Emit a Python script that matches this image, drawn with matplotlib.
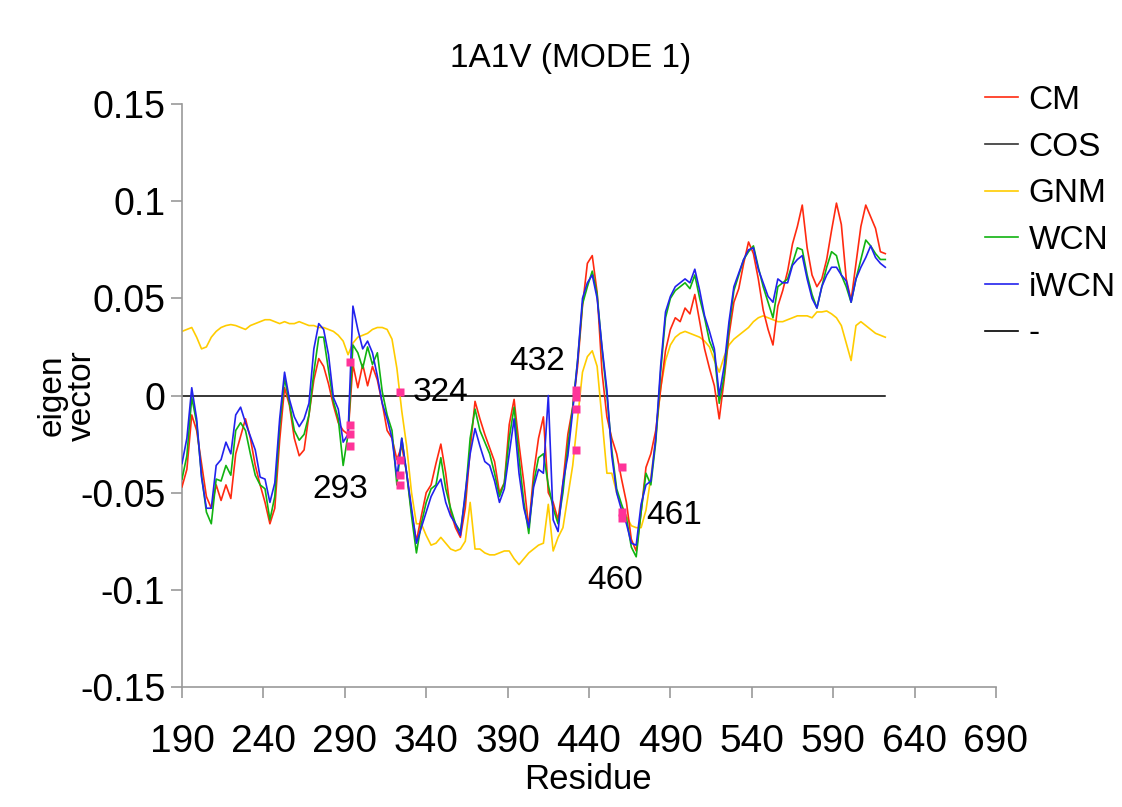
import matplotlib
matplotlib.use('Agg')
import matplotlib.pyplot as plt
from matplotlib.lines import Line2D

plt.rcParams['font.family'] = ['Liberation Sans', 'DejaVu Sans']

residue = list(range(190, 623, 3))

cm = [-0.047, -0.038, -0.010, -0.018, -0.035, -0.052, -0.058, -0.046, -0.054, -0.046,
      -0.053, -0.030, -0.021, -0.012, -0.022, -0.036, -0.046, -0.055, -0.066, -0.058,
      -0.023, 0.004, -0.005, -0.022, -0.031, -0.028, -0.010, 0.008, 0.019, 0.015,
      0.006, -0.005, -0.014, -0.018, -0.020, 0.016, 0.004, 0.016, 0.005, 0.015,
      0.008, -0.004, -0.018, -0.022, -0.033, -0.026, -0.040, -0.060, -0.075, -0.062,
      -0.050, -0.046, -0.035, -0.025, -0.040, -0.060, -0.068, -0.073, -0.058, -0.028,
      -0.003, -0.012, -0.020, -0.027, -0.034, -0.050, -0.045, -0.015, -0.002, -0.025,
      -0.045, -0.068, -0.040, -0.022, -0.011, -0.050, -0.055, -0.064, -0.045, -0.020,
      -0.006, 0.015, 0.046, 0.068, 0.072, 0.053, 0.012, -0.011, -0.022, -0.030,
      -0.043, -0.055, -0.074, -0.080, -0.060, -0.037, -0.030, -0.018, 0.003, 0.023,
      0.034, 0.040, 0.038, 0.045, 0.042, 0.052, 0.038, 0.024, 0.014, 0.005,
      -0.012, 0.008, 0.031, 0.048, 0.055, 0.068, 0.079, 0.073, 0.060, 0.044,
      0.034, 0.026, 0.046, 0.054, 0.064, 0.078, 0.087, 0.098, 0.076, 0.062,
      0.056, 0.060, 0.070, 0.085, 0.099, 0.088, 0.060, 0.049, 0.068, 0.087,
      0.098, 0.092, 0.086, 0.074, 0.073]

wcn = [-0.043, -0.031, -0.001, -0.014, -0.041, -0.060, -0.066, -0.043, -0.044, -0.036,
       -0.041, -0.018, -0.014, -0.018, -0.030, -0.041, -0.046, -0.048, -0.064, -0.052,
       -0.016, 0.009, -0.004, -0.018, -0.023, -0.020, -0.010, 0.012, 0.030, 0.030,
       0.013, -0.003, -0.012, -0.036, -0.020, 0.026, 0.022, 0.014, 0.025, 0.016,
       0.022, 0.002, -0.010, -0.018, -0.046, -0.022, -0.040, -0.062, -0.081, -0.066,
       -0.055, -0.048, -0.046, -0.032, -0.048, -0.058, -0.066, -0.070, -0.052, -0.022,
       -0.007, -0.018, -0.024, -0.030, -0.040, -0.052, -0.045, -0.022, -0.006, -0.032,
       -0.055, -0.071, -0.045, -0.032, -0.030, -0.046, -0.058, -0.066, -0.050, -0.026,
       -0.006, 0.018, 0.047, 0.056, 0.064, 0.052, 0.024, 0.000, -0.028, -0.048,
       -0.056, -0.063, -0.078, -0.083, -0.060, -0.040, -0.046, -0.024, 0.012, 0.040,
       0.050, 0.054, 0.056, 0.058, 0.055, 0.062, 0.050, 0.040, 0.028, 0.022,
       -0.004, 0.010, 0.035, 0.054, 0.062, 0.070, 0.074, 0.077, 0.066, 0.056,
       0.048, 0.040, 0.056, 0.058, 0.060, 0.068, 0.076, 0.075, 0.062, 0.052,
       0.045, 0.056, 0.066, 0.074, 0.072, 0.062, 0.056, 0.048, 0.060, 0.070,
       0.080, 0.077, 0.073, 0.070, 0.070]

iwcn = [-0.035, -0.022, 0.004, -0.012, -0.042, -0.058, -0.058, -0.036, -0.033, -0.024,
        -0.030, -0.010, -0.006, -0.014, -0.021, -0.028, -0.042, -0.043, -0.055, -0.045,
        -0.012, 0.012, -0.002, -0.011, -0.016, -0.012, -0.004, 0.024, 0.037, 0.034,
        0.021, -0.001, -0.007, -0.024, -0.020, 0.046, 0.034, 0.024, 0.028, 0.022,
        0.010, -0.004, -0.012, -0.022, -0.042, -0.022, -0.040, -0.058, -0.076, -0.068,
        -0.060, -0.052, -0.047, -0.043, -0.055, -0.062, -0.066, -0.072, -0.050, -0.030,
        -0.017, -0.026, -0.034, -0.036, -0.044, -0.055, -0.048, -0.030, -0.012, -0.040,
        -0.058, -0.068, -0.047, -0.038, -0.040, 0.000, -0.064, -0.070, -0.045, -0.031,
        -0.008, 0.018, 0.050, 0.058, 0.062, 0.050, 0.025, 0.003, -0.031, -0.050,
        -0.059, -0.066, -0.076, -0.077, -0.056, -0.046, -0.044, -0.022, 0.015, 0.043,
        0.051, 0.056, 0.058, 0.060, 0.058, 0.065, 0.054, 0.041, 0.033, 0.024,
        0.000, 0.015, 0.038, 0.056, 0.063, 0.070, 0.075, 0.076, 0.065, 0.058,
        0.051, 0.048, 0.060, 0.058, 0.058, 0.067, 0.070, 0.072, 0.060, 0.050,
        0.045, 0.056, 0.062, 0.066, 0.066, 0.062, 0.059, 0.048, 0.060, 0.066,
        0.071, 0.077, 0.071, 0.068, 0.066]

gnm = [0.033, 0.034, 0.035, 0.030, 0.024, 0.025, 0.030, 0.033, 0.035, 0.036,
       0.0365, 0.036, 0.035, 0.034, 0.036, 0.037, 0.038, 0.039, 0.039, 0.038,
       0.037, 0.038, 0.037, 0.037, 0.038, 0.037, 0.036, 0.036, 0.035, 0.035,
       0.034, 0.033, 0.031, 0.028, 0.021, 0.027, 0.030, 0.031, 0.032, 0.034,
       0.035, 0.035, 0.034, 0.029, 0.014, -0.008, -0.026, -0.050, -0.066, -0.066,
       -0.072, -0.077, -0.076, -0.073, -0.076, -0.079, -0.080, -0.079, -0.075, -0.055,
       -0.079, -0.079, -0.081, -0.082, -0.082, -0.081, -0.080, -0.080, -0.084, -0.087,
       -0.084, -0.081, -0.079, -0.077, -0.076, -0.056, -0.080, -0.073, -0.068, -0.052,
       -0.036, -0.012, 0.012, 0.020, 0.023, 0.015, -0.012, -0.040, -0.040, -0.050,
       -0.057, -0.062, -0.067, -0.068, -0.068, -0.059, -0.042, -0.022, 0.004, 0.018,
       0.026, 0.030, 0.032, 0.033, 0.032, 0.031, 0.030, 0.028, 0.025, 0.018,
       0.012, 0.020, 0.026, 0.029, 0.031, 0.033, 0.035, 0.038, 0.040, 0.041,
       0.040, 0.039, 0.038, 0.038, 0.039, 0.040, 0.041, 0.041, 0.041, 0.040,
       0.043, 0.043, 0.0435, 0.042, 0.040, 0.036, 0.027, 0.018, 0.036, 0.038,
       0.036, 0.034, 0.032, 0.031, 0.030]

baseline = [0.0] * len(residue)

# highlighted residues (pink squares) and their labels
mark_res = [293, 293, 293, 293, 324, 324, 324, 324, 432, 432, 432, 432, 460, 460, 460]
mark_val = [0.017, -0.015, -0.020, -0.026, 0.002, -0.033, -0.041, -0.046,
            0.003, -0.001, -0.007, -0.028, -0.037, -0.060, -0.063]
label_text = ['293', '324', '432', '460', '461']
label_res = [287, 349, 408, 456, 492]
label_val = [-0.0484, 0.0015, 0.0175, -0.095, -0.062]

colors = {'CM': '#ff2a10', 'COS': '#333333', 'GNM': '#ffcc00',
          'WCN': '#11b311', 'iWCN': '#2222ee', '-': '#000000'}

fig = plt.figure(figsize=(11.22, 8.07), dpi=100)
ax = fig.add_axes([0.1622, 0.1487, 0.7255, 0.7224])

ax.plot(residue, baseline, color=colors['-'], lw=1.1, zorder=1)
ax.plot(residue, gnm, color=colors['GNM'], lw=1.2, zorder=2)
ax.plot(residue, cm, color=colors['CM'], lw=1.2, zorder=3)
ax.plot(residue, wcn, color=colors['WCN'], lw=1.2, zorder=4)
ax.plot(residue, iwcn, color=colors['iWCN'], lw=1.2, zorder=5)
ax.plot(mark_res, mark_val, 's', color='#ff3399', ms=6, mec='none', zorder=6)

for t, r, v in zip(label_text, label_res, label_val):
    ax.text(r, v, t, fontsize=24, ha='center', va='center', zorder=7)

ax.set_xlim(190, 690)
ax.set_ylim(-0.15, 0.15)
ax.set_xticks(range(190, 691, 50))
ax.set_yticks([-0.15, -0.1, -0.05, 0, 0.05, 0.1, 0.15])
ax.set_yticklabels(['-0.15', '-0.1', '-0.05', '0', '0.05', '0.1', '0.15'])
for s in ['top', 'right']:
    ax.spines[s].set_visible(False)
for s in ['left', 'bottom']:
    ax.spines[s].set_color('#999999')
    ax.spines[s].set_linewidth(1.2)
ax.tick_params(axis='both', colors='#999999', length=8, width=1.2, direction='out')
ax.tick_params(axis='y', labelsize=27, labelcolor='black', pad=4)
ax.tick_params(axis='x', labelsize=28, labelcolor='black', pad=19)

fig.text(0.509, 0.928, '1A1V (MODE 1)', fontsize=24, ha='center', va='center')
fig.text(0.524, 0.034, 'Residue', fontsize=25, ha='center', va='center')
fig.text(0.06, 0.51, 'eigen\nvector', fontsize=24, ha='center', va='center',
         rotation=90, linespacing=1.0)

handles = [Line2D([], [], color=colors[k], lw=1.2) for k in colors]
fig.legend(handles, list(colors.keys()), loc='upper left',
           bbox_to_anchor=(0.878, 0.8947), frameon=False, fontsize=24,
           handlelength=1.0, handletextpad=0.3, labelspacing=0.47,
           borderaxespad=0, borderpad=0)

plt.savefig('out.png', dpi=100)
plt.close()
